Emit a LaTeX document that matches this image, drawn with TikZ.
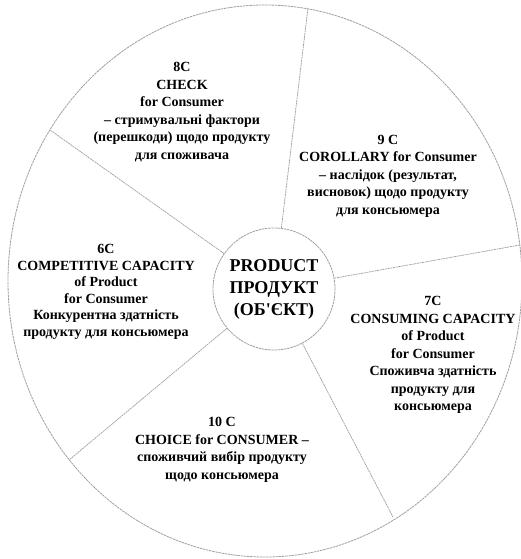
\documentclass[tikz,border=0pt]{standalone}
\usepackage{fontspec}
\setmainfont{Liberation Serif}
\begin{document}
\begin{tikzpicture}[x=1pt,y=-1pt,
  divider/.style={draw=gray!75,line width=0.7pt,dash pattern=on 2pt off 0.7pt},
  rim/.style={draw=gray!75,line width=0.8pt,dash pattern=on 2.5pt off 0.7pt},
  lbl/.style={align=center,inner sep=0pt,font=\fontsize{14}{17.5}\selectfont\bfseries},
  hub/.style={circle,rim,minimum size=122pt,inner sep=0pt,align=center,
    font=\fontsize{18}{22}\selectfont\bfseries}]
\useasboundingbox (0,0) rectangle (520,559);
\fill[white] (0,0) rectangle (520,559);
% outer rim
\draw[rim] (265,281) ellipse [x radius=257pt, y radius=276pt];
% hub
\node[hub] (center) at (274,289) {PRODUCT\\ПРОДУКТ\\(ОБ\textquotesingle ЄКТ)};
% outer ends of dividers
\coordinate (o1) at (308,8);
\coordinate (o2) at (520,245);
\coordinate (o3) at (393,517);
\coordinate (o4) at (69,460);
\coordinate (o5) at (50,130);
\draw[divider] (center) -- (o1);
\draw[divider] (center) -- (o2);
\draw[divider] (center) -- (o3);
\draw[divider] (center) -- (o4);
\draw[divider] (center) -- (o5);
% labels
\node[lbl] (c8) at (182,112) {8C\\CHECK\\for Consumer\\– стримувальні фактори\\(перешкоди) щодо продукту\\для споживача};
\node[lbl] (c9) at (388,176) {9 C\\COROLLARY for Consumer\\– наслідок (результат,\\висновок) щодо продукту\\для консьюмера};
\node[lbl,font=\fontsize{14}{16.5}\selectfont\bfseries] (c6) at (106,292) {6C\\COMPETITIVE CAPACITY\\of Product\\for Consumer\\Конкурентна здатність\\продукту для консьюмера};
\node[lbl] (c7) at (433,355) {7C\\CONSUMING CAPACITY\\of Product\\for Consumer\\Споживча здатність\\продукту для\\консьюмера};
\node[lbl] (c10) at (222,450) {10 C\\CHOICE for CONSUMER –\\споживчий вибір продукту\\щодо консьюмера};
\end{tikzpicture}
\end{document}
